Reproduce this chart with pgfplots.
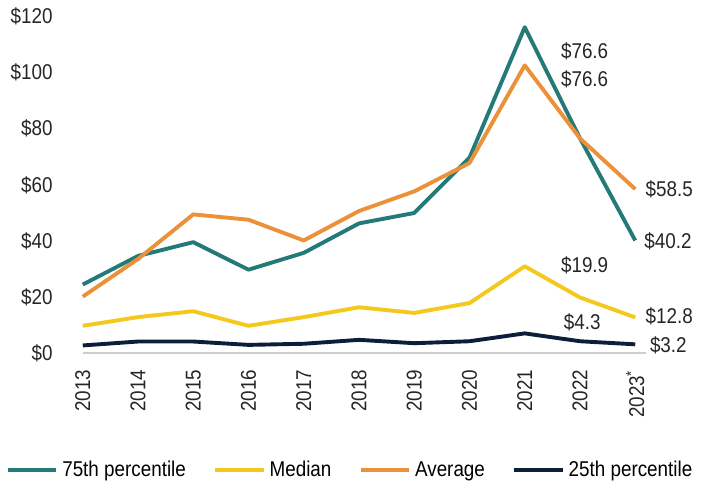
\documentclass[border=0pt]{standalone}
\usepackage{fontspec}
\setmainfont{Liberation Sans}[FakeStretch=0.88]
\usepackage{pgfplots}
\pgfplotsset{compat=1.18}

\definecolor{teal75}{RGB}{36,122,120}
\definecolor{medyel}{RGB}{245,200,30}
\definecolor{avgorg}{RGB}{234,145,58}
\definecolor{navy25}{RGB}{12,30,58}
\definecolor{axgray}{RGB}{210,205,198}

\begin{document}
\begin{tikzpicture}[font=\fontsize{11}{13}\selectfont]
\begin{axis}[
    scale only axis,
    width=289.5pt, height=173pt,
    xmin=2013, xmax=2023.2,
    ymin=0, ymax=120,
    clip=false,
    axis x line*=bottom,
    axis y line*=left,
    y axis line style={draw=none},
    x axis line style={draw=axgray, line width=1.2pt, -},
    major tick length=0pt,
    xtick={2013,...,2023},
    xticklabels={2013,2014,2015,2016,2017,2018,2019,2020,2021,2022,2023\textsuperscript{*}},
    xticklabel style={rotate=90, anchor=east, text=black!85},
    xticklabel shift=5pt,
    ytick={0,20,...,120},
    yticklabel={\$\pgfmathprintnumber{\tick}},
    yticklabel style={xshift=-12pt, text=black!85},
    /pgf/number format/assume math mode=true,
    every axis plot/.append style={line width=2pt, line join=round, mark=none},
    legend columns=4,
    legend style={draw=none, at={(0.476,-0.347)}, anchor=center,
        /tikz/every even column/.append style={column sep=12pt}},
    legend image code/.code={\draw[#1] (0pt,0pt) -- (25pt,0pt);},
    legend cell align=left,
]
\addplot[color=teal75] coordinates {
    (2013,24.5) (2014,34.7) (2015,39.6) (2016,29.8) (2017,35.8) (2018,46.3)
    (2019,50.0) (2020,69.7) (2021,116.2) (2022,76.6) (2023,40.2)
};
\addlegendentry{75th percentile}
\addplot[color=medyel] coordinates {
    (2013,9.8) (2014,12.9) (2015,15.0) (2016,9.8) (2017,12.9) (2018,16.4)
    (2019,14.4) (2020,17.9) (2021,31.0) (2022,19.9) (2023,12.8)
};
\addlegendentry{Median}
\addplot[color=avgorg] coordinates {
    (2013,20.2) (2014,33.6) (2015,49.5) (2016,47.6) (2017,40.2) (2018,50.7)
    (2019,57.7) (2020,67.8) (2021,102.6) (2022,76.6) (2023,58.5)
};
\addlegendentry{Average}
\addplot[color=navy25] coordinates {
    (2013,2.8) (2014,4.2) (2015,4.2) (2016,3.0) (2017,3.4) (2018,4.8)
    (2019,3.6) (2020,4.3) (2021,7.1) (2022,4.3) (2023,3.2)
};
\addlegendentry{25th percentile}

% value labels
\begin{scope}[every node/.style={anchor=west, inner sep=0pt, text=black!85}]
\node at (axis cs:2021.65,107.6) {\$76.6};
\node at (axis cs:2021.65,97.5) {\$76.6};
\node at (axis cs:2023.18,58.3) {\$58.5};
\node at (axis cs:2023.16,39.9) {\$40.2};
\node at (axis cs:2021.65,31.2) {\$19.9};
\node at (axis cs:2023.18,13.2) {\$12.8};
\node at (axis cs:2021.7,11.1) {\$4.3};
\node at (axis cs:2023.26,2.8) {\$3.2};
\end{scope}
\coordinate (O) at (axis cs:2013,0);
\end{axis}
\path (O) ++(-38pt,-61.5pt) rectangle ++(351pt,243pt);
\end{tikzpicture}
\end{document}
